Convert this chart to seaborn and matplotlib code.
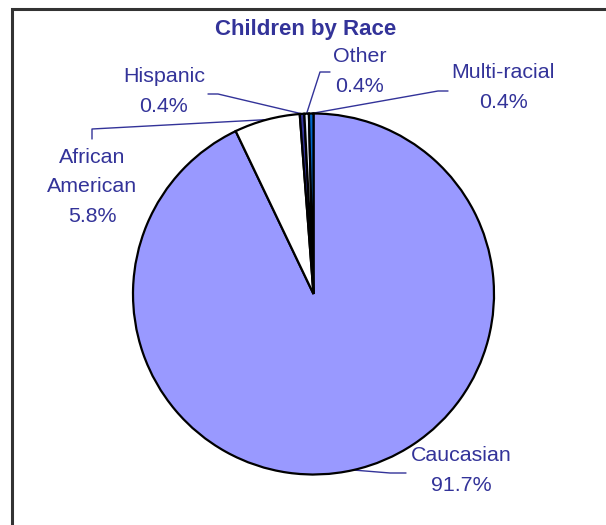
import matplotlib
matplotlib.use("Agg")
import matplotlib.pyplot as plt
import seaborn as sns
import numpy as np
from matplotlib.patches import Rectangle

# ---- data ----
categories = ["Caucasian", "African American", "Hispanic", "Other", "Multi-racial"]
values = [91.7, 5.8, 0.4, 0.4, 0.4]
label_texts = ["Caucasian\n91.7%", "African\nAmerican\n5.8%", "Hispanic\n0.4%",
               "Other\n0.4%", "Multi-racial\n0.4%"]
slice_colors = ["#9999FF", "#FFFFFF", "#333399", "#E6ECFA", "#0066CC"]
title = "Children by Race"

sns.set_theme(style="white")
plt.rcParams['font.family'] = ['Liberation Sans', 'DejaVu Sans']

W, H = 606, 525
TXT = "#333399"


def P(px, py):
    """pixel (top-left origin) -> data coords"""
    return px, H - py


fig = plt.figure(figsize=(6.06, 5.25), dpi=100)
ax = fig.add_axes([0, 0, 1, 1])

cx, cy = P(313.5, 294)
r = 180.5
wedges, _ = ax.pie(values, colors=slice_colors, startangle=90, counterclock=False,
                   center=(cx, cy), radius=r,
                   wedgeprops=dict(edgecolor="black", linewidth=1.6))

ax.set_xlim(0, W)
ax.set_ylim(0, H)
ax.set_aspect("equal")
ax.axis("off")

# frame
ax.add_patch(Rectangle(P(11.5, 540), 700, 531, fill=False, edgecolor="#333333",
                       linewidth=2.2, clip_on=False))

# label layout (pixel positions): text center, elbow, line end
layout = {
    "Caucasian": ((461, 470.5), (390, 473), (406, 473)),
    "African American": ((92, 187), (92, 129), (92, 139)),
    "Hispanic": ((164, 91.5), (218, 94), (208, 94)),
    "Other": ((360, 71.5), (320, 72), (330, 72)),
    "Multi-racial": ((503, 87.5), (438, 91), (448, 91)),
}

for w, cat, lab in zip(wedges, categories, label_texts):
    th = np.deg2rad((w.theta1 + w.theta2) / 2)
    ex, ey = cx + r * np.cos(th), cy + r * np.sin(th)
    (tx, ty), elbow, end = layout[cat]
    bx, by = P(*elbow)
    dx, dy = P(*end)
    ax.plot([ex, bx, dx], [ey, by, dy], color=TXT, linewidth=1.0, zorder=0.5)
    ax.text(*P(tx, ty), lab, ha="center", va="center", multialignment="center",
            fontsize=15.4, color=TXT, linespacing=1.68)

ax.text(*P(306, 30), title, ha="center", va="center", fontsize=16,
        fontweight="bold", color=TXT)

fig.savefig("out.png", dpi=100, facecolor="white")
